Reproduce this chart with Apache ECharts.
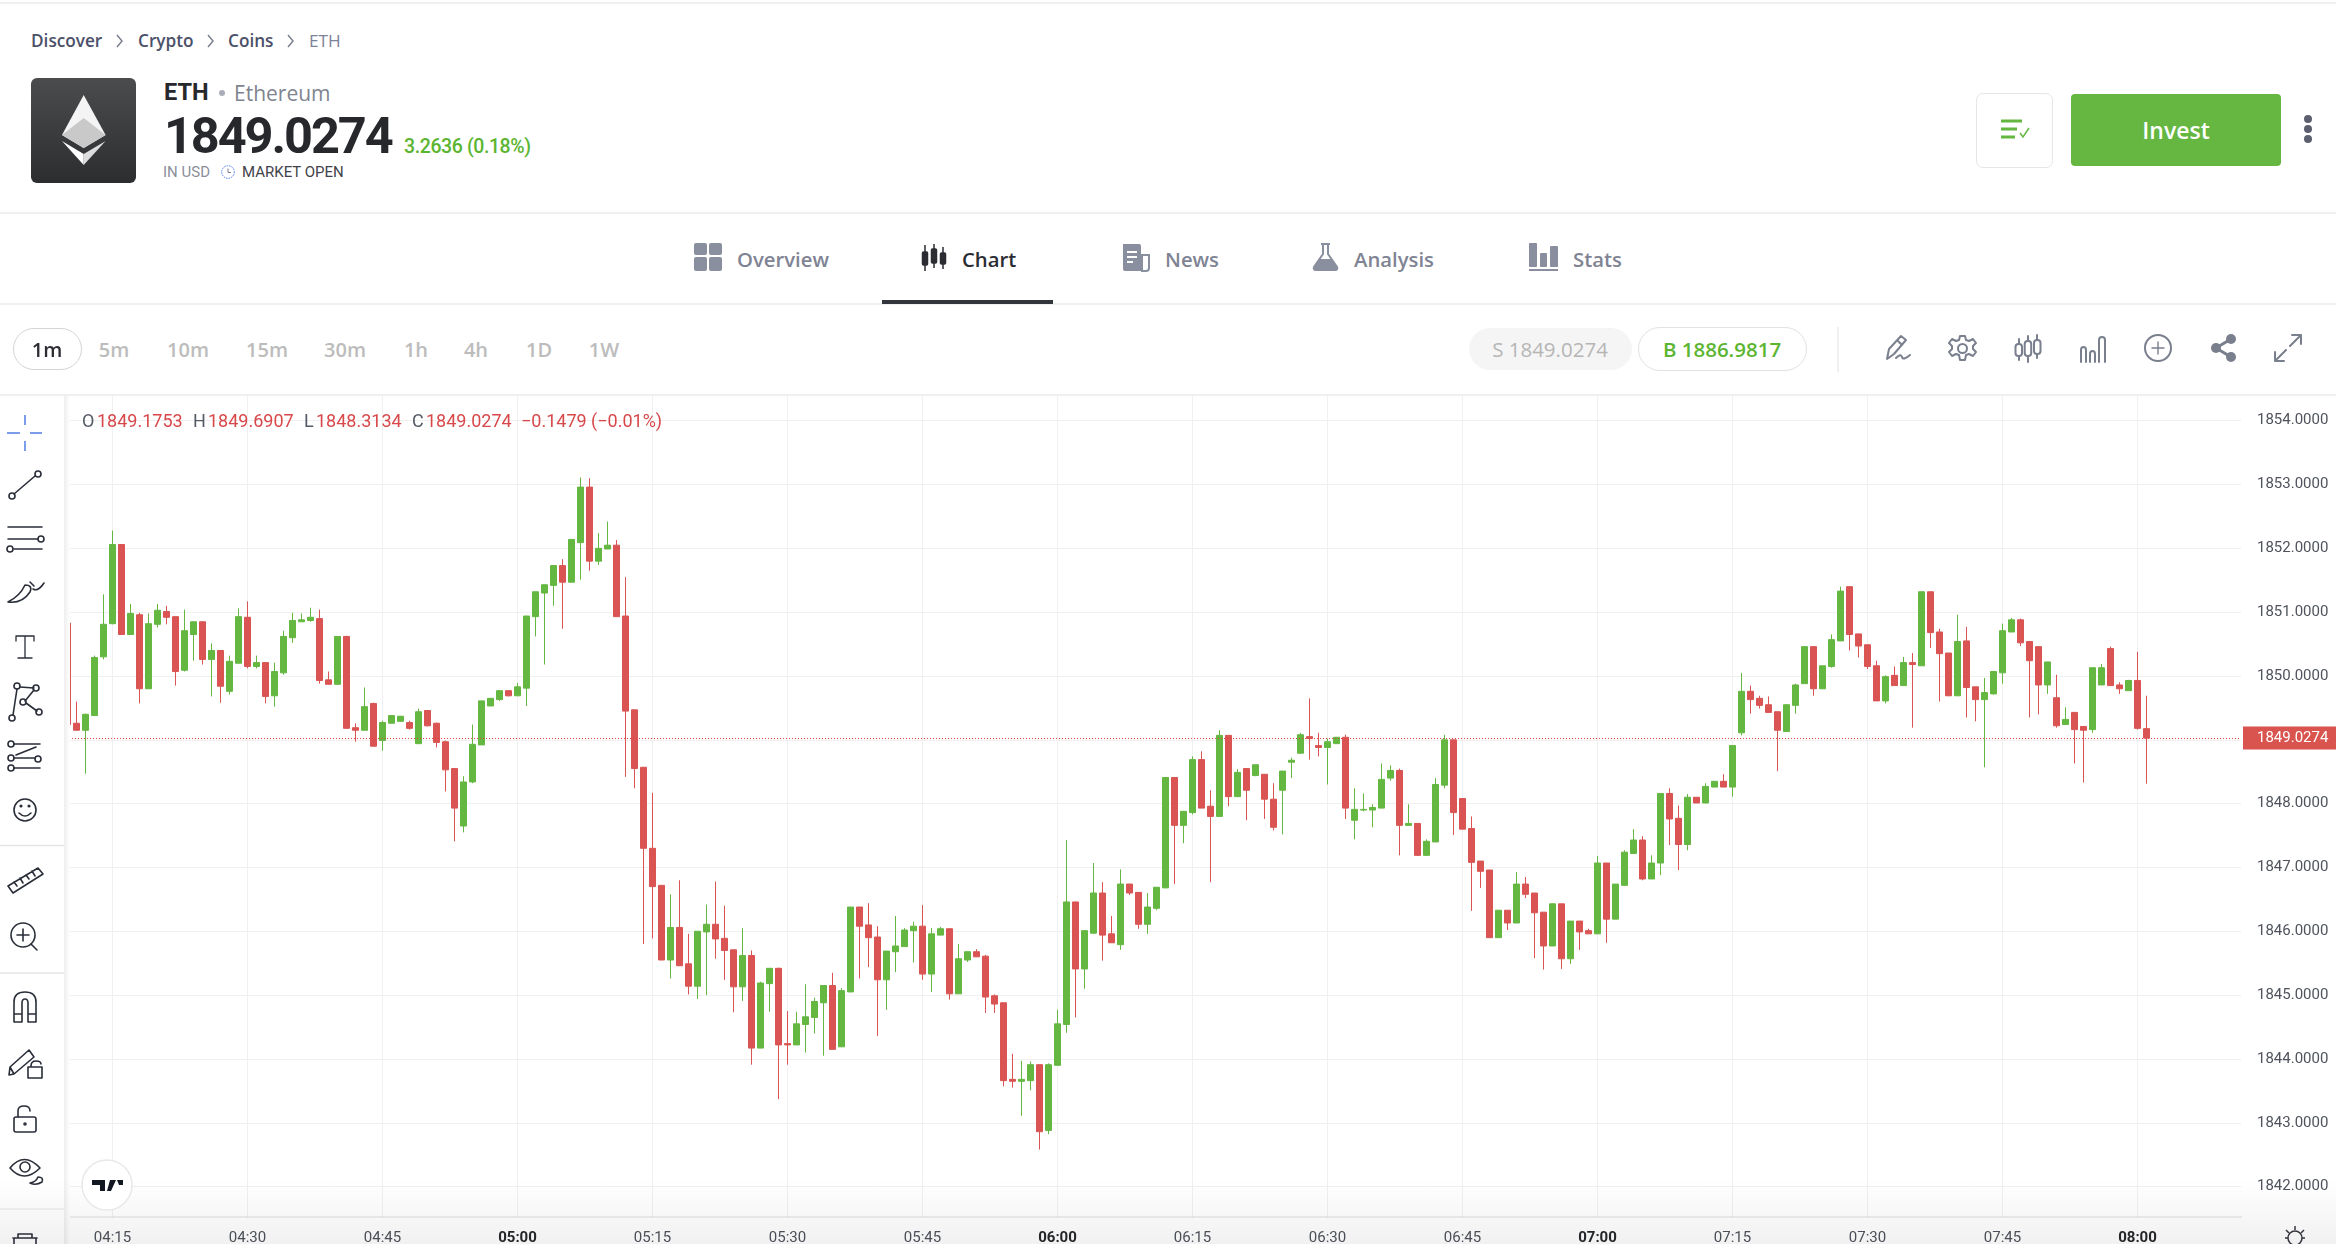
<!DOCTYPE html>
<html><head><meta charset="utf-8">
<script src="https://cdn.jsdelivr.net/npm/echarts@6/dist/echarts.min.js"></script>
<style>
html,body{margin:0;padding:0;background:#fff;width:2336px;height:1244px;overflow:hidden;font-family:"Open Sans",sans-serif}
#chart{position:absolute;left:0;top:0;width:2336px;height:1244px}
.ov{position:absolute;z-index:5}
.t{position:absolute;z-index:6;white-space:nowrap;line-height:1;transform:translateY(-50%)}
.c{transform:translate(-50%,-50%)}
.hl{position:absolute;z-index:6;left:0;width:2336px;height:2px;background:#f0f0f1}
svg{position:absolute;z-index:6;overflow:visible}
.tab{font-weight:600;font-size:20.3px;color:#7f8494}
.tf{font-size:20px;color:#bcbcbc;font-weight:600}
.cr{font-size:17.2px;font-weight:600;color:#4b5069}
.lg{font-family:Roboto,sans-serif;font-size:18px;color:#555b66}
.lv{font-family:Roboto,sans-serif;font-size:18px;color:#d8484a}
.ic{fill:none;stroke:#7a7f8e;stroke-width:2;stroke-linecap:round;stroke-linejoin:round}
.tb{fill:none;stroke:#2a2e39;stroke-width:1.6;stroke-linecap:round;stroke-linejoin:round}
</style></head><body>
<div id="chart"></div>
<!-- page chrome above the plot -->
<div class="ov" style="left:0;top:0;width:2336px;height:395px;background:#fff"></div>
<div class="ov" style="left:0;top:395px;width:64px;height:849px;background:#fff"></div>
<div class="ov" style="left:64px;top:395px;width:6px;height:849px;background:linear-gradient(90deg,#eeeeee,#ffffff)"></div>
<div class="ov" style="left:0;top:1180px;width:2336px;height:64px;background:linear-gradient(180deg,rgba(0,0,0,0),rgba(0,0,0,.055));pointer-events:none"></div>
<div class="hl" style="top:2px"></div><div class="hl" style="top:212px"></div><div class="hl" style="top:303px"></div><div class="hl" style="top:394px"></div>
<div class="t cr" style="left:31px;top:41px">Discover</div>
<div class="t cr" style="left:138px;top:41px">Crypto</div>
<div class="t cr" style="left:228px;top:41px">Coins</div>
<div class="t cr" style="left:309px;top:41px;color:#7c8298;font-weight:400">ETH</div>
<svg style="left:0;top:0" width="400" height="60"><path d="M117 35l5 6-5 6M208 35l5 6-5 6M288 35l5 6-5 6" fill="none" stroke="#777c8c" stroke-width="1.4"/></svg>
<svg style="left:31px;top:78px" width="105" height="105"><defs><linearGradient id="lg1" x1="0" y1="0" x2="0" y2="1"><stop offset="0" stop-color="#4b4c4e"/><stop offset="1" stop-color="#2c2d2f"/></linearGradient></defs>
<rect width="105" height="105" rx="6" fill="url(#lg1)"/><polygon points="52.7,17 31,57 52.7,70 74.6,57" fill="#f4f4f4"/><polygon points="52.7,40 31,57 52.7,70 74.6,57" fill="#c9c9c9"/><polygon points="31,63 52.7,87 52.7,76" fill="#fff"/><polygon points="74.6,63 52.7,87 52.7,76" fill="#dddddd"/></svg>
<div class="t" style="left:164px;top:93px;font-family:Roboto;font-weight:700;font-size:23.5px;color:#26282c">ETH</div>
<svg style="left:218px;top:89px" width="8" height="8"><circle cx="4" cy="4" r="3" fill="#a9adb7"/></svg>
<div class="t" style="left:234px;top:93px;font-size:21px;color:#80848f">Ethereum</div>
<div class="t" style="left:164px;top:136px;font-family:Roboto;font-weight:700;font-size:50.5px;letter-spacing:-2.1px;color:#26282c">1849.0274</div>
<div class="t" style="left:404px;top:147px;font-family:Roboto;font-weight:500;font-size:19.5px;letter-spacing:-.4px;color:#5cb531">3.2636 (0.18%)</div>
<div class="t" style="left:163px;top:172px;font-family:Roboto;font-size:15px;color:#8b8f9a">IN USD</div>
<svg style="left:221px;top:165px" width="14" height="14"><circle cx="7" cy="7" r="6.3" fill="none" stroke="#4e7de0" stroke-width="1" stroke-dasharray="1.5 1"/><path d="M7 3.5V7.5H10" fill="none" stroke="#7a7f8e"/></svg>
<div class="t" style="left:242px;top:172px;font-family:Roboto;font-size:15px;color:#3f424a">MARKET OPEN</div>
<div class="ov" style="left:1976px;top:93px;width:75px;height:73px;border:1.5px solid #e6e6e6;border-radius:7px;background:#fff;z-index:6"></div>
<svg style="left:2000px;top:118px" width="40" height="24"><path d="M1 3H22M1 11H17M1 19H15" stroke="#65b741" stroke-width="3" fill="none"/><path d="M20 15l3 4 6-9" stroke="#65b741" stroke-width="1.5" fill="none"/></svg>
<div class="ov" style="left:2071px;top:94px;width:210px;height:72px;background:#65b741;border-radius:4px;z-index:6"></div>
<div class="t c" style="left:2176px;top:130px;font-size:23px;font-weight:600;color:#fff">Invest</div>
<svg style="left:2303px;top:114px" width="10" height="30"><circle cx="5" cy="5" r="4" fill="#5b5f6e"/><circle cx="5" cy="15" r="4" fill="#5b5f6e"/><circle cx="5" cy="25" r="4" fill="#5b5f6e"/></svg>
<!-- tabs -->
<svg style="left:694px;top:243px" width="28" height="28"><g fill="#8a8f9f"><rect width="13" height="12" rx="2"/><rect x="15" width="13" height="12" rx="2"/><rect y="14" width="13" height="14" rx="2"/><rect x="15" y="14" width="13" height="14" rx="2"/></g></svg>
<div class="t tab" style="left:737px;top:259px">Overview</div>
<svg style="left:920px;top:244px" width="28" height="28"><g fill="#2b2d33" stroke="#2b2d33" stroke-width="1.5"><path d="M5 1V27M14 0V24M23 3V25"/><rect x="2.5" y="8" width="5" height="13" rx="1"/><rect x="11.5" y="5" width="5" height="14" rx="1"/><rect x="20.5" y="9" width="5" height="11" rx="1"/></g></svg>
<div class="t tab" style="left:962px;top:259px;color:#2b2d33">Chart</div>
<div class="ov" style="left:882px;top:300px;width:171px;height:4px;background:#33353c;z-index:6"></div>
<svg style="left:1121px;top:244px" width="30" height="27"><path d="M2 0H18Q20 0 20 2V27H4Q2 27 2 25Z" fill="#8a8f9f"/><path d="M21 11H28V24Q28 27 25 27H21Z" fill="none" stroke="#8a8f9f" stroke-width="2"/><path d="M6 8H16M6 13H16M6 18H12" stroke="#fff" stroke-width="2"/></svg>
<div class="t tab" style="left:1165px;top:259px">News</div>
<svg style="left:1312px;top:243px" width="27" height="28"><path d="M9 1H18M11 1V11L2 24Q1 27 4 27H23Q26 27 25 24L16 11V1" fill="none" stroke="#8a8f9f" stroke-width="2"/><path d="M7 16H20L25 25Q25 27 23 27H4Q2 27 2 25Z" fill="#8a8f9f"/></svg>
<div class="t tab" style="left:1354px;top:259px">Analysis</div>
<svg style="left:1529px;top:243px" width="30" height="28"><g fill="#8a8f9f"><rect x="0" y="0" width="8" height="24" rx="1"/><rect x="11" y="10" width="7" height="14" rx="1"/><rect x="21" y="3" width="8" height="21" rx="1"/><rect y="26" width="29" height="2"/></g></svg>
<div class="t tab" style="left:1573px;top:259px">Stats</div>
<!-- time frames -->
<div class="ov" style="left:13px;top:328px;width:67px;height:40px;border:1.3px solid #d5d5d5;border-radius:21px;z-index:6;background:#fff"></div>
<div class="t tf c" style="left:47px;top:350px;color:#2b2d33">1m</div>
<div class="t tf c" style="left:114px;top:350px">5m</div><div class="t tf c" style="left:188px;top:350px">10m</div>
<div class="t tf c" style="left:267px;top:350px">15m</div><div class="t tf c" style="left:345px;top:350px">30m</div>
<div class="t tf c" style="left:416px;top:350px">1h</div><div class="t tf c" style="left:476px;top:350px">4h</div>
<div class="t tf c" style="left:539px;top:350px">1D</div><div class="t tf c" style="left:604px;top:350px">1W</div>
<div class="ov" style="left:1469px;top:328px;width:163px;height:42px;background:#f5f5f5;border-radius:21px;z-index:6"></div>
<div class="t c" style="left:1550px;top:349px;font-size:20.5px;color:#b5b5b5">S 1849.0274</div>
<div class="ov" style="left:1638px;top:327px;width:167px;height:42px;border:1.3px solid #e2e2e2;border-radius:22px;z-index:6;background:#fff"></div>
<div class="t c" style="left:1722px;top:349px;font-size:20.5px;font-weight:600;color:#5cb531">B 1886.9817</div>
<div class="ov" style="left:1837px;top:327px;width:2px;height:45px;background:#f0f0f1;z-index:6"></div>
<svg style="left:1884px;top:334px" width="28" height="28"><path class="ic" d="M3 25L5 15 17 2 22 6 10 20 3 25ZM14 7l4 4M12 24Q17 19 18 23T26 21" /></svg>
<svg style="left:1949px;top:335px" width="28" height="28"><path class="ic" d="M11 1h5l1 4 3 1 4-2 3 4-3 3v3l3 3-3 4-4-2-3 1-1 5h-5l-1-5-3-1-4 2-3-4 3-3v-3l-3-3 3-4 4 2 3-1z"/><circle class="ic" cx="13.5" cy="13.5" r="4.5"/></svg>
<svg style="left:2014px;top:334px" width="28" height="28"><path class="ic" d="M5 5V26M14 2V28M23 1V24"/><rect class="ic" x="1.5" y="10" width="6.5" height="12" rx="3" style="fill:#fff"/><rect class="ic" x="10.7" y="7" width="6.5" height="15" rx="3" style="fill:#fff"/><rect class="ic" x="20" y="6" width="6.5" height="14" rx="3" style="fill:#fff"/></svg>
<svg style="left:2079px;top:336px" width="28" height="27"><path class="ic" d="M2 26V14Q2 11 4.500 11T7 14V26M11 26V18Q11 15 13.500 15T16 18V26M20 26V4Q20 1 23 1T26 4V26"/></svg>
<svg style="left:2144px;top:334px" width="28" height="28"><circle class="ic" cx="14" cy="14" r="13"/><path class="ic" style="stroke-width:1.4" d="M14 8V20M8 14H20"/></svg>
<svg style="left:2211px;top:334px" width="24" height="28"><path d="M20 5L5 14 20 23" fill="none" stroke="#7a7f8e" stroke-width="3"/><circle cx="20" cy="5" r="5" fill="#7a7f8e"/><circle cx="5" cy="14" r="5" fill="#7a7f8e"/><circle cx="20" cy="23" r="5" fill="#7a7f8e"/></svg>
<svg style="left:2274px;top:334px" width="28" height="28"><path class="ic" d="M16 12L27 1M18 1H27V10M12 16L1 27M1 18V27H10"/></svg>
<!-- drawing toolbar -->
<svg style="left:0;top:395px;z-index:7" width="64" height="849">
<path transform="translate(0,-4)" d="M25 24V34M25 50V60M7 42H20M30 42H42" fill="none" stroke="#4f7fe3" stroke-width="1.5"/>
<g class="tb"><g transform="translate(0,3)"><circle cx="12" cy="98" r="3"/><circle cx="38" cy="76" r="3"/><path d="M14 96L35 78"/></g>
<g transform="translate(0,2)"><path d="M8 130H42M8 142H38M14 152H42"/><circle cx="41" cy="142" r="3"/><circle cx="10" cy="152" r="3"/></g>
<g transform="translate(0,4)"><path d="M8 203Q20 197 25 186 33 186 30 193 22 205 8 203ZM33 190Q38 193 44 184M30 183L34 187"/></g>
<g transform="translate(0,-9)"><path d="M16 250H34M25 250V272M18 272H32M16 250V255M34 250V255" style="stroke-width:1.3"/></g>
<g transform="translate(0,3)"><circle cx="17" cy="288" r="3"/><circle cx="36" cy="290" r="3"/><circle cx="23" cy="304" r="3"/><circle cx="12" cy="320" r="3"/><circle cx="39" cy="314" r="3"/><path d="M17 291L13 317M20 289L34 290M25 303L34 292M26 305L37 313"/></g>
<g transform="translate(0,6)"><circle cx="11" cy="343" r="3"/><circle cx="11" cy="357" r="3"/><circle cx="11" cy="367" r="3"/><circle cx="38" cy="358" r="3"/><path d="M14 343H40M14 357H35M14 367H40M16 354L36 346" /></g>
<g transform="translate(0,6)"><circle cx="25" cy="409" r="11"/><circle cx="21" cy="405" r=".8"/><circle cx="29" cy="405" r=".8"/><path d="M19 412Q25 418 31 412"/></g>
<g transform="translate(0,3)"><path d="M8 488L38 470 43 476 13 495ZM14 484l3 4M20 480l3 5M26 477l3 4M32 473l3 5"/></g>
<g transform="translate(0,3)"><circle cx="23" cy="537" r="12"/><path d="M17 537H29M23 531V543M31 546L37 552"/></g>
<g transform="translate(0,7)"><path d="M14 620V600Q14 590 25 590T36 600V620H28V601Q28 597 25 597T22 601V620ZM14 612H22M28 612H36"/></g>
<g transform="translate(0,7)"><path d="M10 665L14 672 34 655 29 648ZM10 665L9 673 14 672M30 665H42V676H28V665ZM31 664Q31 659 36 659T41 662"/></g>
<g transform="translate(0,3)"><rect x="14" y="719" width="22" height="15" rx="2"/><path d="M18 719V713Q18 708 24 708T30 713"/><circle cx="25" cy="726" r="1"/></g>
<g transform="translate(0,1)"><path d="M10 772Q24 755 40 772 24 788 10 772Z"/><circle cx="25" cy="771" r="5"/><path d="M30 787Q36 786 38 781 44 781 42 786 36 790 30 787Z"/></g>
<path d="M13 843H37M18 843V839H32V843M14 843V849M36 843V849"/></g>
<path d="M0 450.600H64M0 578H64M0 814H64" stroke="#e6e6e6" stroke-width="1.5"/></svg>
<!-- OHLC legend -->
<div class="t lg" style="left:82px;top:421px">O</div><div class="t lv" style="left:97px;top:421px">1849.1753</div>
<div class="t lg" style="left:193px;top:421px">H</div><div class="t lv" style="left:208px;top:421px">1849.6907</div>
<div class="t lg" style="left:304px;top:421px">L</div><div class="t lv" style="left:316px;top:421px">1848.3134</div>
<div class="t lg" style="left:412px;top:421px">C</div><div class="t lv" style="left:426px;top:421px">1849.0274</div>
<div class="t lv" style="left:521px;top:421px">−0.1479 (−0.01%)</div>
<!-- logo badge -->
<svg style="left:81px;top:1159px" width="52" height="52"><circle cx="26" cy="26" r="25" fill="#fff" stroke="#e8e8e8" stroke-width="1.5"/><path d="M11 21H24V32H19V26H11ZM29 21H35L30 32H26ZM36 21H42V26H38Z" fill="#131722"/></svg>
<svg style="left:2282px;top:1225px;z-index:7" width="26" height="19"><path d="M13 1V5M4 5l3 3M22 5l-3 3M3 13H6M20 13H23" stroke="#33363d" stroke-width="1.5" fill="none"/><circle cx="13" cy="13" r="7" fill="none" stroke="#33363d" stroke-width="1.5"/></svg>
<script>
// minute bars, 04:10 onward (one per minute)
const opens=[1850.83,1849.26,1849.15,1849.38,1850.30,
1850.82,1852.06,1850.65,1850.96,1849.80,1850.81,1851.01,1850.93,1850.09,1850.65,
1850.85,1850.26,1850.40,1849.76,1850.20,1850.92,1850.15,1850.21,1849.69,1850.05,
1850.60,1850.85,1850.87,1850.90,1849.94,1849.87,1850.62,1849.19,1849.15,1849.57,
1848.99,1849.26,1849.29,1849.27,1848.94,1849.46,1849.26,1848.97,1848.55,1847.65,
1848.34,1848.92,1849.53,1849.63,1849.77,1849.69,1849.81,1850.93,1851.30,1851.42,
1851.73,1851.47,1852.09,1852.96,1851.80,1851.99,1852.05,1850.94,1849.47,1848.57,
1847.30,1846.72,1845.55,1846.06,1845.49,1845.14,1845.99,1846.11,1845.89,1845.71,
1845.13,1845.62,1844.17,1845.18,1845.42,1844.24,1844.22,1844.54,1844.65,1844.88,
1845.15,1844.19,1845.05,1846.38,1846.10,1845.91,1845.24,1845.68,1845.76,1846.01,
1846.08,1845.33,1845.94,1846.04,1845.02,1845.55,1845.68,1845.61,1844.99,1844.88,
1843.68,1843.65,1843.66,1843.91,1842.88,1843.90,1844.54,1846.46,1845.41,1845.97,
1846.60,1845.96,1845.79,1846.74,1846.61,1846.11,1846.36,1846.68,1848.41,1847.66,
1847.86,1848.69,1847.96,1847.80,1849.07,1848.11,1848.55,1848.44,1848.46,1848.07,
1848.21,1848.65,1848.79,1849.05,1848.91,1848.88,1848.94,1849.04,1847.74,1847.90,
1847.90,1847.93,1848.40,1848.52,1847.66,1847.69,1847.19,1847.40,1848.29,1849.00,
1848.08,1847.61,1847.10,1846.96,1845.90,1846.33,1846.13,1846.74,1846.60,1846.30,
1845.77,1846.43,1845.57,1846.16,1846.01,1845.96,1847.07,1846.19,1846.72,1847.22,
1847.43,1846.82,1847.07,1848.16,1847.77,1847.36,1848.10,1848.01,1848.26,1848.35,
1848.26,1849.11,1849.76,1849.65,1849.55,1849.44,1849.13,1849.54,1849.88,1850.46,
1849.80,1850.15,1850.55,1851.40,1850.66,1850.49,1850.16,1849.61,1850.01,1849.85,
1850.21,1850.16,1851.32,1850.69,1850.36,1849.69,1850.55,1849.83,1849.63,1849.72,
1850.05,1850.69,1850.88,1850.54,1850.46,1849.86,1849.66,1849.24,1849.43,1849.21,
1849.16,1849.86,1850.43,1849.86,1849.77,1849.93,1849.1753];
const closes=[1849.24,1849.15,1849.40,1850.29,1850.81,
1852.06,1850.65,1850.98,1849.80,1850.82,1851.03,1850.92,1850.07,1850.71,1850.85,
1850.26,1850.40,1849.84,1850.23,1850.93,1850.15,1850.21,1849.68,1850.07,1850.62,
1850.87,1850.88,1850.92,1849.93,1849.87,1850.62,1849.18,1849.15,1849.52,1848.90,
1849.27,1849.38,1849.37,1849.18,1849.44,1849.22,1848.96,1848.53,1847.93,1848.34,
1848.93,1849.61,1849.65,1849.77,1849.69,1849.83,1850.94,1851.32,1851.43,1851.73,
1851.47,1852.14,1852.96,1851.80,1852.00,1852.05,1850.93,1849.45,1848.55,1847.30,
1846.70,1845.55,1846.06,1845.46,1845.14,1846.00,1846.11,1845.88,1845.70,1845.13,
1845.62,1844.17,1845.19,1845.42,1844.22,1844.22,1844.55,1844.66,1844.90,1845.15,
1844.15,1845.07,1846.38,1846.08,1845.90,1845.24,1845.69,1845.77,1846.02,1846.08,
1845.33,1845.96,1846.04,1845.02,1845.57,1845.68,1845.60,1844.97,1844.86,1843.66,
1843.65,1843.68,1843.91,1842.86,1843.91,1844.55,1846.46,1845.41,1846.01,1846.60,
1845.94,1845.82,1846.74,1846.60,1846.11,1846.38,1846.69,1848.41,1847.66,1847.88,
1848.69,1847.93,1847.80,1849.07,1848.11,1848.49,1848.21,1848.61,1848.07,1847.63,
1848.51,1848.68,1849.08,1849.02,1848.88,1848.97,1849.04,1847.93,1847.91,1847.91,
1847.94,1848.38,1848.52,1847.66,1847.69,1847.19,1847.41,1848.30,1849.00,1847.86,
1847.60,1847.08,1846.94,1845.90,1846.33,1846.13,1846.74,1846.58,1846.29,1845.77,
1846.43,1845.57,1846.16,1845.99,1845.96,1847.07,1846.19,1846.74,1847.24,1847.43,
1846.82,1847.07,1848.16,1847.76,1847.36,1848.10,1848.01,1848.27,1848.35,1848.26,
1848.91,1849.76,1849.63,1849.54,1849.43,1849.15,1849.55,1849.86,1850.46,1849.80,
1850.16,1850.57,1851.33,1850.65,1850.47,1850.15,1849.61,1849.99,1849.85,1850.21,
1850.18,1851.32,1850.68,1850.35,1849.69,1850.54,1849.82,1849.63,1849.74,1850.07,
1850.71,1850.88,1850.52,1850.24,1849.86,1850.22,1849.22,1849.32,1849.16,1849.15,
1850.13,1850.13,1849.85,1849.80,1849.93,1849.18,1849.0274];
const lows=[1849.24,1849.15,1848.47,1849.38,1850.26,
1850.81,1850.65,1850.65,1849.57,1849.80,1850.76,1850.81,1849.85,1850.07,1850.24,
1850.18,1849.68,1849.58,1849.71,1850.20,1850.12,1850.12,1849.57,1849.52,1850.02,
1850.52,1850.85,1850.85,1849.88,1849.87,1849.87,1849.18,1848.97,1849.15,1848.90,
1848.83,1849.26,1849.29,1849.16,1848.94,1849.21,1848.88,1848.19,1847.41,1847.55,
1848.32,1848.92,1849.53,1849.61,1849.68,1849.69,1849.53,1850.62,1850.18,1851.10,
1850.74,1851.47,1851.51,1851.65,1851.74,1851.99,1850.93,1848.42,1848.24,1845.80,
1845.89,1845.55,1845.26,1845.46,1845.01,1844.94,1845.00,1845.57,1845.24,1844.73,
1844.91,1843.91,1844.17,1844.74,1843.37,1843.91,1844.22,1844.10,1844.40,1844.05,
1844.15,1844.19,1845.05,1845.26,1845.44,1844.36,1844.77,1845.36,1845.76,1845.51,
1845.24,1845.05,1845.94,1844.93,1845.02,1845.52,1845.60,1844.72,1844.72,1843.57,
1843.55,1843.11,1843.51,1842.58,1842.82,1843.90,1844.41,1844.65,1845.10,1845.97,
1845.54,1845.82,1845.71,1846.57,1846.04,1845.96,1846.33,1846.68,1846.74,1847.38,
1847.83,1847.93,1846.77,1847.79,1847.96,1848.11,1847.74,1848.43,1847.76,1847.58,
1847.52,1848.40,1848.79,1848.69,1848.74,1848.30,1848.94,1847.76,1847.44,1847.88,
1847.63,1847.93,1848.36,1847.19,1847.66,1847.19,1847.19,1847.40,1848.24,1847.51,
1847.60,1846.32,1846.68,1845.90,1845.90,1846.02,1846.13,1846.52,1845.58,1845.40,
1845.77,1845.41,1845.49,1845.71,1845.96,1845.96,1845.82,1846.19,1846.71,1847.22,
1846.80,1846.82,1846.88,1847.35,1846.96,1847.27,1848.01,1848.01,1848.26,1848.26,
1848.11,1849.07,1849.41,1849.49,1849.43,1848.51,1849.13,1849.41,1849.88,1849.69,
1849.80,1850.13,1850.55,1850.40,1850.29,1850.11,1849.61,1849.57,1849.85,1849.85,
1849.19,1850.16,1850.44,1849.60,1849.69,1849.69,1849.35,1849.29,1848.57,1849.71,
1849.88,1850.69,1850.47,1849.35,1849.40,1849.72,1849.19,1849.24,1848.63,1848.33,
1849.11,1849.86,1849.85,1849.72,1849.77,1849.16,1848.3134];
const highs=[1850.83,1849.60,1849.41,1850.32,1851.28,
1852.28,1852.06,1851.13,1850.99,1850.98,1851.13,1851.10,1850.93,1851.04,1850.85,
1850.85,1850.51,1850.40,1850.32,1851.06,1851.17,1850.32,1850.21,1850.21,1850.71,
1850.99,1850.98,1851.07,1851.04,1850.07,1850.62,1850.63,1849.26,1849.82,1849.58,
1849.30,1849.38,1849.37,1849.30,1849.49,1849.46,1849.27,1848.99,1848.55,1848.43,
1849.24,1849.61,1849.65,1849.77,1849.77,1849.89,1850.94,1851.32,1851.43,1851.73,
1851.83,1852.14,1853.11,1853.10,1852.24,1852.42,1852.13,1851.55,1849.47,1848.57,
1848.17,1846.72,1846.58,1846.80,1845.96,1846.00,1846.42,1846.78,1846.40,1845.71,
1846.05,1845.70,1845.21,1845.42,1845.43,1844.75,1844.74,1845.17,1844.96,1845.15,
1845.35,1845.11,1846.38,1846.38,1846.44,1846.08,1845.69,1846.24,1846.05,1846.15,
1846.41,1846.05,1846.07,1846.04,1845.80,1845.68,1845.72,1845.63,1845.01,1844.88,
1844.08,1843.97,1843.96,1843.91,1843.93,1844.77,1847.43,1846.46,1846.01,1847.07,
1846.77,1846.24,1846.97,1846.74,1846.61,1846.60,1846.69,1848.41,1848.41,1847.88,
1848.74,1848.82,1848.21,1849.15,1849.07,1848.54,1848.55,1848.61,1848.46,1848.32,
1848.51,1848.72,1849.11,1849.65,1849.11,1849.02,1849.04,1849.08,1848.24,1848.16,
1847.99,1848.63,1848.60,1848.55,1847.99,1847.69,1847.44,1848.40,1849.08,1849.00,
1848.08,1847.80,1847.10,1846.96,1846.33,1846.33,1846.93,1846.85,1846.60,1846.30,
1846.44,1846.43,1846.16,1846.16,1846.04,1847.18,1847.07,1846.74,1847.27,1847.60,
1847.49,1847.19,1848.16,1848.24,1847.97,1848.15,1848.10,1848.32,1848.35,1848.46,
1848.91,1850.05,1849.85,1849.69,1849.68,1849.44,1849.55,1849.88,1850.46,1850.47,
1850.16,1850.65,1851.40,1851.40,1850.66,1850.49,1850.24,1850.01,1850.15,1850.30,
1850.36,1851.32,1851.32,1850.74,1850.36,1850.96,1850.77,1849.83,1849.97,1850.08,
1850.82,1850.91,1850.90,1850.55,1850.46,1850.22,1850.02,1849.51,1849.43,1849.21,
1850.13,1850.19,1850.46,1849.90,1849.94,1850.38,1849.6907];
const tickLabels=['04:15','04:30','04:45','05:00','05:15','05:30','05:45','06:00','06:15','06:30','06:45','07:00','07:15','07:30','07:45','08:00'];
const boldTicks=['05:00','06:00','07:00','08:00'];
const lastPrice=1849.0274;
const priceMin=1841, priceMax=1855, priceStep=1;
// one category per minute, with empty room to the right of the last bar
const categories=[];
for(let m=4*60+10;m<4*60+10+242;m++){categories.push(String(Math.floor(m/60)).padStart(2,'0')+':'+String(m%60).padStart(2,'0'));}
const UP='#64b741',DOWN='#d95452',GRID='#f0f0f1';
const isTick=(i,v)=>tickLabels.includes(v);
const GL=63,GW=2178;
const chart=echarts.init(document.getElementById('chart'),null,{renderer:'canvas'});
chart.setOption({
 animation:false,
 grid:[{left:GL,width:GW,top:356.9,height:893.5,outerBoundsMode:'none'},{left:GL,width:GW,top:1217,height:1,outerBoundsMode:'none'}],
 xAxis:[
  {type:'category',gridIndex:0,data:categories,z:0,axisLine:{show:false},axisTick:{show:false},axisLabel:{show:false},
   splitLine:{show:true,interval:isTick,alignWithLabel:true,lineStyle:{color:GRID,width:1}}},
  {type:'category',gridIndex:1,data:categories,z:10,axisLine:{show:false},axisTick:{show:false},splitLine:{show:false},
   axisLabel:{show:true,interval:isTick,margin:13,fontFamily:'Roboto',fontSize:15,color:'#4f535c',
     formatter:v=>boldTicks.includes(v)?'{b|'+v+'}':v,
     rich:{b:{fontFamily:'Roboto',fontSize:15,fontWeight:700,color:'#26282c'}}}}
 ],
 yAxis:[
  {type:'value',gridIndex:0,position:'right',min:priceMin,max:priceMax,interval:priceStep,scale:true,
   axisLine:{show:false},axisTick:{show:false},splitLine:{show:true,lineStyle:{color:GRID,width:1}},
   axisLabel:{margin:16,padding:[2,0,0,0],fontFamily:'Roboto',fontSize:15,color:'#4f535c',formatter:v=>v.toFixed(4)}},
  {type:'value',gridIndex:1,show:false}
 ],
 graphic:[
  {type:'rect',z:5,silent:true,shape:{x:64,y:1218,width:2272,height:30},style:{fill:'#ffffff'}},
  {type:'rect',z:6,silent:true,shape:{x:70,y:1216.5,width:2172,height:1},style:{fill:'#dddddd'}}
 ],
 series:[{type:'candlestick',xAxisIndex:0,yAxisIndex:0,barWidth:6,z:2,
  itemStyle:{color:UP,color0:DOWN,borderColor:UP,borderColor0:DOWN,borderWidth:1},
  data:opens.map((o,i)=>[o,closes[i],lows[i],highs[i]]),
  markLine:{silent:true,symbol:'none',animation:false,
   lineStyle:{type:[1,2],color:'#e83e40',width:1.2,opacity:1},
   label:{show:true,position:'end',distance:2,formatter:()=>lastPrice.toFixed(4),fontFamily:'Roboto',fontSize:15,color:'#fff',
     backgroundColor:'#d9534f',padding:[4,7,4,14],width:73},
   data:[{yAxis:lastPrice}]}
 }]
});
</script>
</body></html>
